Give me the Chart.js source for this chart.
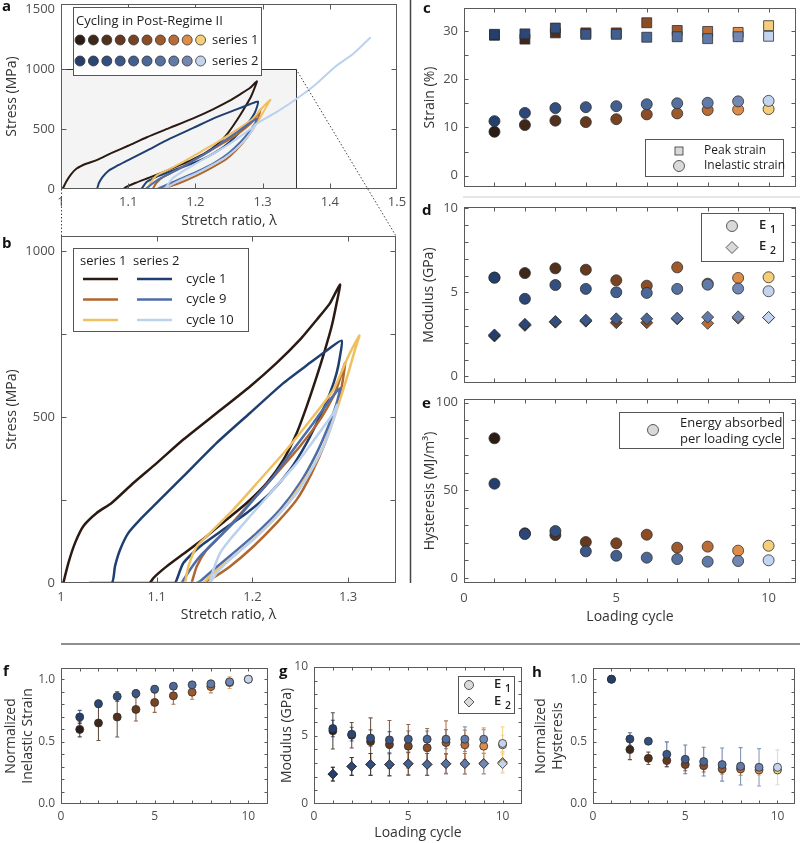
<!DOCTYPE html>
<html>
<head>
<meta charset="utf-8">
<title>Cyclic loading in Post-Regime II</title>
<script src="https://cdn.jsdelivr.net/npm/chart.js@4.4.1/dist/chart.umd.min.js"></script>
<style>
html,body{margin:0;padding:0;background:#fff;}
body{width:800px;height:843px;position:relative;overflow:hidden;}
canvas{position:absolute;}
#ov{position:absolute;left:0;top:0;pointer-events:none;}
</style>
</head>
<body>
<canvas id="ca" width="410" height="232" style="left:0px;top:0px"></canvas>
<canvas id="cb" width="410" height="393" style="left:0px;top:232px"></canvas>
<canvas id="cc" width="400" height="195" style="left:410px;top:0px"></canvas>
<canvas id="cd" width="400" height="195" style="left:410px;top:195px"></canvas>
<canvas id="ce" width="400" height="240" style="left:410px;top:390px"></canvas>
<canvas id="cf" width="275" height="193" style="left:0px;top:650px"></canvas>
<canvas id="cg" width="255" height="193" style="left:275px;top:650px"></canvas>
<canvas id="ch" width="270" height="193" style="left:530px;top:650px"></canvas>
<svg id="ov" width="800" height="843" xmlns="http://www.w3.org/2000/svg">
  <line x1="410.5" y1="0" x2="410.5" y2="583" stroke="#444" stroke-width="1.5"/>
  <line x1="61" y1="644" x2="800" y2="644" stroke="#6a6a6a" stroke-width="1.5"/>
  <line x1="463" y1="197" x2="800" y2="197" stroke="#e6e6e6" stroke-width="2"/>
  <line x1="296" y1="69" x2="396" y2="236" stroke="#444" stroke-width="1" stroke-dasharray="1.5,2"/>
  <line x1="61.5" y1="189" x2="61.5" y2="236" stroke="#444" stroke-width="1" stroke-dasharray="1.5,2"/>
  <g font-family="'Open Sans', sans-serif" font-weight="bold" font-size="15" fill="#111">
    <text x="2" y="11">a</text>
    <text x="2" y="248">b</text>
    <text x="423" y="13">c</text>
    <text x="422" y="215">d</text>
    <text x="422" y="408">e</text>
    <text x="3" y="676">f</text>
    <text x="279" y="676">g</text>
    <text x="532" y="677">h</text>
  </g>
</svg>
<script>
// ---------------- DATA ----------------
const cycles = [1,2,3,4,5,6,7,8,9,10];

// panel c: strain (%)
const peakStrainS1 = [29.1,28.3,29.6,29.6,29.6,31.7,30.1,29.9,29.7,31.1];
const peakStrainS2 = [29.3,29.4,30.6,29.3,29.3,28.7,28.8,28.4,28.8,28.9];
const inelStrainS1 = [9.1,10.5,11.4,11.1,11.7,12.7,12.9,13.6,13.7,13.8];
const inelStrainS2 = [11.3,13.0,14.0,14.2,14.4,14.8,15.0,15.1,15.4,15.5];

// panel d: modulus (GPa)
const e1S1 = [5.88,6.15,6.43,6.35,5.72,5.40,6.49,5.52,5.86,5.90];
const e1S2 = [5.88,4.62,5.44,5.21,5.01,4.97,5.21,5.46,5.23,5.07];
const e2S1 = [2.41,3.04,3.23,3.29,3.20,3.20,3.43,3.16,3.47,3.50];
const e2S2 = [2.47,3.10,3.27,3.35,3.43,3.43,3.47,3.53,3.55,3.51];

// panel e: hysteresis (MJ/m3)
const hystS1 = [79.7,25.5,24.5,20.5,19.8,24.7,17.3,17.9,15.6,18.4];
const hystS2 = [53.8,25.1,26.8,15.2,12.7,11.6,10.8,9.3,9.7,10.1];

// panel f: normalized inelastic strain
const normInelS1 = [0.598,0.649,0.697,0.758,0.814,0.867,0.896,0.941,0.973,1.0];
const normInelS1Err = [0.06,0.14,0.16,0.093,0.08,0.067,0.056,0.05,0.047,0];
const normInelS2 = [0.697,0.803,0.862,0.886,0.92,0.944,0.955,0.963,0.979,1.0];
const normInelS2Err = [0.053,0.03,0.04,0.03,0.03,0.02,0.015,0.02,0.02,0];

// panel g: modulus mean +- sd
const gE1S1 = [5.34,5.02,4.56,4.34,4.22,4.10,4.49,4.32,4.22,4.32];
const gE1S1Err = [1.32,0.93,1.73,1.75,1.58,1.41,1.58,1.07,1.34,1.31];
const gE1S2 = [5.51,5.10,4.81,4.68,4.73,4.73,4.73,4.73,4.73,4.42];
const gE1S2Err = [0.6,0.5,0.6,0.6,0.6,0.6,0.7,0.9,0.7,0.6];
const gE2S1 = [2.18,2.74,2.89,2.87,2.94,2.89,2.94,2.94,2.97,3.04];
const gE2S1Err = [0.5,0.65,0.8,0.8,0.8,0.8,0.7,0.75,0.75,0.7];
const gE2S2 = [2.18,2.74,2.89,2.89,2.94,2.89,2.94,2.94,2.94,2.94];
const gE2S2Err = [0.5,0.65,0.8,0.85,0.85,0.8,0.75,0.75,0.75,0.7];

// panel h: normalized hysteresis
const normHystS1 = [1.0,0.436,0.366,0.348,0.316,0.307,0.281,0.281,0.273,0.273];
const normHystS1Err = [0,0.08,0.05,0.05,0.05,0.05,0.04,0.05,0.04,0.03];
const normHystS2 = [1.0,0.521,0.503,0.398,0.358,0.34,0.316,0.302,0.294,0.294];
const normHystS2Err = [0,0.05,0.01,0.1,0.115,0.115,0.133,0.15,0.15,0.14];

// panels a/b: stress-stretch curves (stretch ratio, stress MPa)
const lamS1C1 = [1.0024,1.0077,1.0146,1.0233,1.0373,1.0529,1.0756,1.1000,1.1278,1.1627,1.1975,1.2254,1.2497,1.2672,1.2811,1.2915,1.2880,1.2828,1.2759,1.2672,1.2567,1.2463,1.2323,1.2149,1.1940,1.1731,1.1522,1.1313,1.1104,1.0965,1.0930];
const sigS1C1 = [0,60,120,171,211,241,301,361,432,512,592,663,733,793,843,899,843,773,703,622,532,452,371,301,241,191,141,95,50,15,0];
const lamS2C1 = [1.030,1.053,1.0564,1.0617,1.0704,1.0826,1.1000,1.1278,1.1627,1.1975,1.2323,1.2602,1.2811,1.2933,1.2915,1.2880,1.2811,1.2706,1.2567,1.2393,1.2184,1.1940,1.1696,1.1452,1.1278,1.1209,1.1190,1.053];
const sigS2C1 = [0,0,50,100,151,191,241,321,422,512,602,663,708,730,683,633,572,502,422,341,271,211,161,110,60,10,0,0];
const lamS1C9 = [1.1365,1.1418,1.1522,1.1696,1.1975,1.2254,1.2497,1.2706,1.2863,1.2968,1.2933,1.2863,1.2759,1.2619,1.2463,1.2254,1.2010,1.1766,1.1557,1.1487];
const sigS1C9 = [0,50,100,151,241,331,412,492,572,663,592,512,422,331,251,181,110,50,10,0];
const lamS1C10 = [1.1296,1.1331,1.1418,1.1557,1.1800,1.2079,1.2358,1.2637,1.2846,1.3002,1.3117,1.3072,1.3002,1.2915,1.2811,1.2672,1.2497,1.2288,1.2045,1.1800,1.1592,1.1487];
const sigS1C10 = [0,50,110,151,221,311,402,502,582,683,745,703,633,552,462,371,291,211,141,80,30,0];
const lamS2C9 = [1.1260,1.1348,1.1452,1.1627,1.1800,1.2010,1.2219,1.2428,1.2637,1.2811,1.2915,1.2880,1.2793,1.2672,1.2497,1.2288,1.2045,1.1800,1.1592,1.1452,1.1418];
const sigS2C9 = [0,40,80,131,181,251,321,402,482,552,587,542,472,392,301,221,151,90,40,5,0];
const lamS2C10 = [1.1209,1.1540,1.1592,1.1661,1.1766,1.1975,1.2219,1.2463,1.2672,1.2846,1.2887,1.2846,1.2759,1.2637,1.2463,1.2254,1.2010,1.1800,1.1627,1.1557];
const sigS2C10 = [0,0,40,90,131,201,281,361,442,512,537,492,422,351,271,201,131,80,30,0];
const lamS2C10Ext = [1.2887,1.300,1.320,1.348,1.378,1.408,1.435,1.460];
const sigS2C10Ext = [537,575,640,743,868,1021,1130,1263];

// tick values
const aXLabels = [1,1.1,1.2,1.3,1.4,1.5], aYLabels = [0,500,1000,1500];
const bXLabels = [1,1.1,1.2,1.3], bYLabels = [0,500,1000];
const cycleLabels = [0,5,10];
const cYLabels = [0,10,20,30], dYLabels = [0,5,10], eYLabels = [0,50,100];
const normLabels = [0,0.5,1.0], gYLabels = [0,5,10];
const zoomBoxLam = 1.35, zoomBoxSig = 1000;

// ---------------- STYLE ----------------
const FONT = "'Open Sans', sans-serif";
const PAL1 = ['#2b1d16','#3e2819','#52311c','#66391f','#784322','#8a4d26','#9e592c','#ba6c36','#de8d48','#f4ce79'];
const PAL2 = ['#253f6c','#2c4777','#324f80','#3a5788','#425f90','#4b6898','#5571a0','#607ba9','#7288b3','#c4d4ee'];
const LC = {s1c1:'#2a1a12', s1c9:'#b0662f', s1c10:'#f0c060', s2c1:'#1f3f70', s2c9:'#4d6da9', s2c10:'#bcd1ee'};
const FRAME = '#5a5a5a', TICKC = '#4f4f4f', TITLEC = '#333';

function zip(xs, ys){ return xs.map((x,i)=>({x:x, y:ys[i]})); }
function fmtNum(v){ return String(Math.round(v*100)/100); }

function axis(o){
  return {
    type:'linear', min:o.min, max:o.max,
    grid:{display:false, drawTicks:false},
    border:{display:false},
    afterBuildTicks: s => { s.ticks = (o.labels||[]).map(v=>({value:v})); },
    afterFit: s => {
      if (o.w != null) s.width = o.w;
      if (o.h != null) s.height = o.h;
      s.paddingTop = 0; s.paddingBottom = 0; s.paddingLeft = 0; s.paddingRight = 0;
    },
    ticks:{display: o.show !== false, padding: o.pad == null ? 6 : o.pad, autoSkip:false, maxRotation:0, minRotation:0,
      color:TICKC, font:{family:FONT, size:o.fs || 13}, callback: o.fmt || (v => fmtNum(v))},
    title: o.title ? {display:true, text:o.title, color:TITLEC, font:{family:FONT, size:14, lineHeight:1.2}, padding:o.tpad} : {display:false}
  };
}
function base(o){
  return {responsive:false, animation:false, devicePixelRatio:1, events:[],
    layout:{padding:o.padding},
    plugins:{legend:{display:false}, tooltip:{enabled:false}},
    scales:{x:o.x, y:o.y}};
}
function lineDS(xs, ys, color, w){
  return {data:zip(xs, ys), showLine:true, pointRadius:0, borderColor:color, backgroundColor:color,
    borderWidth:w, tension:0.2, fill:false, borderJoinStyle:'round', borderCapStyle:'round'};
}
function dotDS(vals, pal, style, r, err){
  const ds = {data:zip(cycles, vals), pointStyle:style, pointRadius:r, backgroundColor:pal,
    borderColor:'#2e2e2e', borderWidth:0.8, showLine:false};
  if (err) { ds.errorBars = err; ds.errColors = pal.map(c => c + 'cc'); }
  return ds;
}
function framePlugin(o){
  return {id:'frame', afterDatasetsDraw(chart){
    const {ctx, chartArea:ca, scales} = chart; const xs = scales.x, ys = scales.y;
    const L = Math.round(ca.left)+0.5, R = Math.round(ca.right)-0.5, T = Math.round(ca.top)+0.5, B = Math.round(ca.bottom)-0.5;
    ctx.save(); ctx.strokeStyle = FRAME; ctx.lineWidth = 1;
    ctx.strokeRect(L, T, R-L, B-T);
    ctx.beginPath();
    (o.xt||[]).forEach(v => { const p = Math.round(xs.getPixelForValue(v))+0.5;
      ctx.moveTo(p,T); ctx.lineTo(p,T+o.len); ctx.moveTo(p,B); ctx.lineTo(p,B-o.len); });
    (o.yt||[]).forEach(v => { const p = Math.round(ys.getPixelForValue(v))+0.5;
      ctx.moveTo(L,p); ctx.lineTo(L+o.len,p); ctx.moveTo(R,p); ctx.lineTo(R-o.len,p); });
    ctx.stroke(); ctx.restore();
  }};
}
const errPlugin = {id:'err', beforeDatasetsDraw(chart){
  const {ctx, scales:{y}} = chart;
  ctx.save(); ctx.lineWidth = 1.1;
  chart.data.datasets.forEach((ds,i) => {
    if (!ds.errorBars) return;
    const meta = chart.getDatasetMeta(i);
    meta.data.forEach((pt,j) => {
      const e = ds.errorBars[j]; if (!e) return;
      const v = ds.data[j].y, x = pt.x;
      const y1 = y.getPixelForValue(v+e), y2 = y.getPixelForValue(v-e);
      ctx.strokeStyle = ds.errColors[j];
      ctx.beginPath(); ctx.moveTo(x,y1); ctx.lineTo(x,y2);
      ctx.moveTo(x-2,y1); ctx.lineTo(x+2,y1); ctx.moveTo(x-2,y2); ctx.lineTo(x+2,y2); ctx.stroke();
    });
  });
  ctx.restore();
}};

// legend drawing helpers (page coordinates, translated per canvas)
function box(ctx, x1, y1, x2, y2){ ctx.fillStyle = '#fff'; ctx.fillRect(x1,y1,x2-x1,y2-y1); ctx.strokeStyle = '#555'; ctx.lineWidth = 1; ctx.strokeRect(Math.round(x1)+0.5, Math.round(y1)+0.5, x2-x1, y2-y1); }
function circ(ctx, x, y, r, fill){ ctx.beginPath(); ctx.arc(x,y,r,0,Math.PI*2); ctx.fillStyle = fill; ctx.fill(); ctx.strokeStyle = '#333'; ctx.lineWidth = 0.8; ctx.stroke(); }
function sq(ctx, x, y, s, fill){ ctx.fillStyle = fill; ctx.fillRect(x-s/2,y-s/2,s,s); ctx.strokeStyle = '#333'; ctx.lineWidth = 0.8; ctx.strokeRect(x-s/2,y-s/2,s,s); }
function dia(ctx, x, y, r, fill){ ctx.beginPath(); ctx.moveTo(x,y-r); ctx.lineTo(x+r,y); ctx.lineTo(x,y+r); ctx.lineTo(x-r,y); ctx.closePath(); ctx.fillStyle = fill; ctx.fill(); ctx.strokeStyle = '#333'; ctx.lineWidth = 0.8; ctx.stroke(); }
function txt(ctx, s, x, y, size, weight){ ctx.font = (weight||'normal') + ' ' + size + 'px ' + FONT; ctx.fillStyle = '#1e1e1e'; ctx.textAlign = 'left'; ctx.textBaseline = 'middle'; ctx.fillText(s, x, y); }
function eLabel(ctx, x, y, sub, size){ txt(ctx, 'E', x, y, size, '600'); txt(ctx, sub, x + size*0.85, y + size*0.35, size*0.8, '600'); }
function legendPlugin(ox, oy, fn){ return {id:'lg', afterDraw(chart){ const ctx = chart.ctx; ctx.save(); ctx.translate(-ox,-oy); fn(ctx); ctx.restore(); }}; }

// ---------------- PANEL a ----------------
const zoomBoxPlugin = {id:'zbox', beforeDatasetsDraw(chart){
  const {ctx, scales:{x,y}} = chart;
  const x1 = x.getPixelForValue(1), x2 = Math.round(x.getPixelForValue(zoomBoxLam))+0.5;
  const y1 = Math.round(y.getPixelForValue(zoomBoxSig))+0.5, y2 = y.getPixelForValue(0);
  ctx.save(); ctx.fillStyle = '#f4f4f4'; ctx.fillRect(x1, y1, x2-x1, y2-y1);
  ctx.strokeStyle = '#333'; ctx.lineWidth = 1; ctx.beginPath(); ctx.moveTo(x1,y1); ctx.lineTo(x2,y1); ctx.lineTo(x2,y2); ctx.stroke(); ctx.restore();
}};
new Chart(document.getElementById('ca'), {
  type:'scatter',
  data:{datasets:[
    lineDS(lamS2C10Ext, sigS2C10Ext, LC.s2c10, 2),
    lineDS(lamS2C10, sigS2C10, LC.s2c10, 2),
    lineDS(lamS2C9, sigS2C9, LC.s2c9, 2),
    lineDS(lamS1C10, sigS1C10, LC.s1c10, 2),
    lineDS(lamS1C9, sigS1C9, LC.s1c9, 2),
    lineDS(lamS2C1, sigS2C1, LC.s2c1, 2),
    lineDS(lamS1C1, sigS1C1, LC.s1c1, 2)
  ]},
  options: base({
    padding:{top:4, right:13, left:0, bottom:0},
    x: axis({min:1, max:1.5, labels:aXLabels, h:43, pad:5, title:'Stretch ratio, λ', tpad:{top:0,bottom:3}}),
    y: axis({min:0, max:1545, labels:aYLabels, w:61, pad:6, title:'Stress (MPa)', tpad:{top:4,bottom:0}})
  }),
  plugins:[zoomBoxPlugin, framePlugin({xt:[1.1,1.2,1.3,1.4], yt:[500,1000], len:5}),
    legendPlugin(0, 0, ctx => {
      box(ctx, 73, 7, 261, 75);
      txt(ctx, 'Cycling in Post-Regime II', 76, 21, 13);
      for (let i = 0; i < 10; i++) { circ(ctx, 80 + 13.4*i, 40, 5, PAL1[i]); circ(ctx, 80 + 13.4*i, 61, 5, PAL2[i]); }
      txt(ctx, 'series 1', 212, 40, 13); txt(ctx, 'series 2', 212, 61, 13);
    })]
});

// ---------------- PANEL b ----------------
new Chart(document.getElementById('cb'), {
  type:'scatter',
  data:{datasets:[
    lineDS(lamS2C10, sigS2C10, LC.s2c10, 2.5),
    lineDS(lamS1C10, sigS1C10, LC.s1c10, 2.5),
    lineDS(lamS2C9, sigS2C9, LC.s2c9, 2.5),
    lineDS(lamS1C9, sigS1C9, LC.s1c9, 2.5),
    lineDS(lamS2C1, sigS2C1, LC.s2c1, 2.5),
    lineDS(lamS1C1, sigS1C1, LC.s1c1, 2.5)
  ]},
  options: base({
    padding:{top:4, right:14, left:0, bottom:0},
    x: axis({min:1, max:1.35, labels:bXLabels, h:42, pad:6, title:'Stretch ratio, λ', tpad:{top:0,bottom:2}}),
    y: axis({min:0, max:1045, labels:bYLabels, w:61, pad:6, title:'Stress (MPa)', tpad:{top:4,bottom:0}})
  }),
  plugins:[framePlugin({xt:[1.1,1.2,1.3], yt:[250,500,750,1000], len:5}),
    legendPlugin(0, 232, ctx => {
      box(ctx, 73, 248, 248, 331);
      txt(ctx, 'series 1', 80, 261, 13); txt(ctx, 'series 2', 133, 261, 13);
      const rows = [[LC.s1c1, LC.s2c1, 'cycle 1'], [LC.s1c9, LC.s2c9, 'cycle 9'], [LC.s1c10, LC.s2c10, 'cycle 10']];
      rows.forEach((r, i) => {
        const y = 279 + 20.5*i;
        ctx.lineWidth = 2.5; ctx.lineCap = 'butt';
        ctx.strokeStyle = r[0]; ctx.beginPath(); ctx.moveTo(83, y); ctx.lineTo(118, y); ctx.stroke();
        ctx.strokeStyle = r[1]; ctx.beginPath(); ctx.moveTo(137, y); ctx.lineTo(172, y); ctx.stroke();
        txt(ctx, r[2], 186, y, 13);
      });
    })]
});

// ---------------- PANEL c ----------------
new Chart(document.getElementById('cc'), {
  type:'scatter',
  data:{datasets:[
    dotDS(inelStrainS2, PAL2, 'circle', 5.5),
    dotDS(inelStrainS1, PAL1, 'circle', 5.5),
    dotDS(peakStrainS2, PAL2, 'rect', 7),
    dotDS(peakStrainS1, PAL1, 'rect', 7)
  ]},
  options: base({
    padding:{top:4, right:14, left:0, bottom:0},
    x: axis({min:0, max:10.9, labels:[], show:false, h:6}),
    y: axis({min:-2.4, max:34.8, labels:cYLabels, w:54, pad:6, title:'Strain (%)', tpad:{top:11.6,bottom:0}})
  }),
  plugins:[framePlugin({xt:cycles, yt:[0,5,10,15,20,25,30], len:4}),
    legendPlugin(410, 0, ctx => {
      box(ctx, 645, 139, 783, 176);
      sq(ctx, 679, 151, 8, '#d9d9d9'); circ(ctx, 679, 166, 5.5, '#d9d9d9');
      txt(ctx, 'Peak strain', 704, 151, 12); txt(ctx, 'Inelastic strain', 704, 166, 12);
    })]
});

// ---------------- PANEL d ----------------
new Chart(document.getElementById('cd'), {
  type:'scatter',
  data:{datasets:[
    dotDS(e1S2, PAL2, 'circle', 5.5),
    dotDS(e2S2, PAL2, 'rectRot', 6),
    dotDS(e1S1, PAL1, 'circle', 5.5),
    dotDS(e2S1, PAL1, 'rectRot', 6)
  ]},
  options: base({
    padding:{top:12, right:14, left:0, bottom:0},
    x: axis({min:0, max:10.9, labels:[], show:false, h:6}),
    y: axis({min:-0.4, max:10.08, labels:dYLabels, w:54, pad:6, title:'Modulus (GPa)', tpad:{top:10.6,bottom:0}})
  }),
  plugins:[framePlugin({xt:cycles, yt:[0,1,2,3,4,5,6,7,8,9,10], len:4}),
    legendPlugin(410, 195, ctx => {
      box(ctx, 701, 213, 783, 261);
      circ(ctx, 732, 226, 5.5, '#d9d9d9'); dia(ctx, 732, 247.5, 6, '#d9d9d9');
      eLabel(ctx, 759, 225, '1', 13); eLabel(ctx, 759, 246, '2', 13);
    })]
});

// ---------------- PANEL e ----------------
new Chart(document.getElementById('ce'), {
  type:'scatter',
  data:{datasets:[
    dotDS(hystS2, PAL2, 'circle', 5.5),
    dotDS(hystS1, PAL1, 'circle', 5.5)
  ]},
  options: base({
    padding:{top:9, right:14, left:0, bottom:0},
    x: axis({min:0, max:10.9, labels:cycleLabels, h:47, pad:7, title:'Loading cycle', tpad:{top:0,bottom:4.6}}),
    y: axis({min:-2.85, max:102.1, labels:eYLabels, w:54, pad:6, title:'Hysteresis (MJ/m³)', tpad:{top:11.6,bottom:0}})
  }),
  plugins:[framePlugin({xt:cycles, yt:[0,10,20,30,40,50,60,70,80,90,100], len:4}),
    legendPlugin(410, 390, ctx => {
      box(ctx, 619, 412, 783, 448);
      circ(ctx, 653, 430, 5.5, '#d9d9d9');
      txt(ctx, 'Energy absorbed', 680, 423, 13); txt(ctx, 'per loading cycle', 680, 439, 13);
    })]
});

// ---------------- PANEL f ----------------
const normTicks = [0.1,0.2,0.3,0.4,0.5,0.6,0.7,0.8,0.9,1.0];
new Chart(document.getElementById('cf'), {
  type:'scatter',
  data:{datasets:[
    dotDS(normInelS2, PAL2, 'circle', 4, normInelS2Err),
    dotDS(normInelS1, PAL1, 'circle', 4, normInelS1Err)
  ]},
  options: base({
    padding:{top:18, right:7, left:0, bottom:0},
    x: axis({min:0, max:11.05, labels:cycleLabels, h:39, pad:5, fs:12}),
    y: axis({min:0, max:1.09, labels:normLabels, w:61, pad:6, fs:12, fmt:v => v.toFixed(1),
      title:['Normalized','Inelastic Strain'], tpad:{top:2.6,bottom:0}})
  }),
  plugins:[errPlugin, framePlugin({xt:cycles, yt:normTicks, len:3})]
});

// ---------------- PANEL g ----------------
new Chart(document.getElementById('cg'), {
  type:'scatter',
  data:{datasets:[
    dotDS(gE1S2, PAL2, 'circle', 4, gE1S2Err),
    dotDS(gE2S2, PAL2, 'rectRot', 4.8, gE2S2Err),
    dotDS(gE1S1, PAL1, 'circle', 4, gE1S1Err),
    dotDS(gE2S1, PAL1, 'rectRot', 4.8, gE2S1Err)
  ]},
  options: base({
    padding:{top:17, right:8, left:0, bottom:0},
    x: axis({min:0, max:11.03, labels:cycleLabels, h:39, pad:5, fs:12, title:'Loading cycle', tpad:{top:0,bottom:1.6}}),
    y: axis({min:0, max:10, labels:gYLabels, w:39, pad:6, fs:12, title:'Modulus (GPa)', tpad:{top:3.3,bottom:0}})
  }),
  plugins:[errPlugin, framePlugin({xt:cycles, yt:[1,2,3,4,5,6,7,8,9], len:3}),
    legendPlugin(275, 650, ctx => {
      box(ctx, 458, 676, 514, 713);
      circ(ctx, 469, 685, 4.5, '#d9d9d9'); dia(ctx, 469, 702, 5, '#d9d9d9');
      eLabel(ctx, 494, 684, '1', 13); eLabel(ctx, 494, 701, '2', 13);
    })]
});

// ---------------- PANEL h ----------------
new Chart(document.getElementById('ch'), {
  type:'scatter',
  data:{datasets:[
    dotDS(normHystS2, PAL2, 'circle', 4, normHystS2Err),
    dotDS(normHystS1, PAL1, 'circle', 4, normHystS1Err)
  ]},
  options: base({
    padding:{top:18, right:2, left:0, bottom:0},
    x: axis({min:0, max:10.96, labels:cycleLabels, h:39, pad:5, fs:12}),
    y: axis({min:0, max:1.09, labels:normLabels, w:63, pad:6, fs:12, fmt:v => v.toFixed(1),
      title:['Normalized','Hysteresis'], tpad:{top:2.6,bottom:0}})
  }),
  plugins:[errPlugin, framePlugin({xt:cycles, yt:normTicks, len:3})]
});
</script>
</body>
</html>
